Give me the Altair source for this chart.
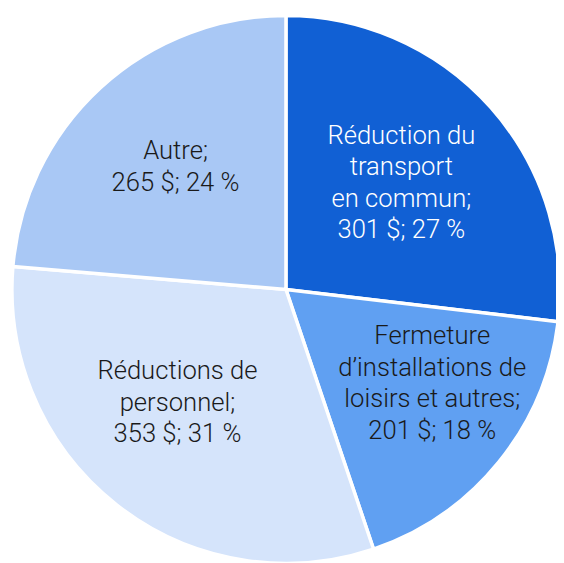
import altair as alt
import pandas as pd

categories = ["Réduction du transport en commun", "Fermeture d’installations de loisirs et autres",
              "Réductions de personnel", "Autre"]
values = [301, 201, 353, 265]
label_lines = [
    ["Réduction du", "transport", "en commun;", "301 $; 27 %"],
    ["Fermeture", "d’installations de", "loisirs et autres;", "201 $; 18 %"],
    ["Réductions de", "personnel;", "353 $; 31 %"],
    ["Autre;", "265 $; 24 %"],
]

colors = ["#1160d4", "#60a0f2", "#d5e4fb", "#a9c8f5"]
text_colors = ["#ffffff", "#1a1a1a", "#1a1a1a", "#1a1a1a"]
label_radius = [158, 177, 159, 167]
label_dx = [-1, 11, -12, 1]
label_dy = [-3, -16, -10, -1]
LINE_H = 32

df = pd.DataFrame({
    "cat": categories,
    "val": values,
    "idx": list(range(len(categories))),
    "label": label_lines,
})

R = 278

base = alt.Chart(df).encode(
    theta=alt.Theta("val:Q", stack=True),
    order=alt.Order("idx:Q"),
)

pie = base.mark_arc(stroke="white", strokeWidth=3.5).encode(
    color=alt.Color("cat:N", scale=alt.Scale(domain=categories, range=colors), legend=None),
    radius=alt.value(R),
)

layers = [pie]
for i, c in enumerate(categories):
    n = len(label_lines[i])
    t = base.mark_text(
        font="Roboto", fontWeight=300, fontSize=26, lineHeight=LINE_H, align="center", baseline="middle",
        color=text_colors[i], dx=label_dx[i], dy=label_dy[i] - (n - 1) * LINE_H / 2,
    ).encode(
        text="label",
        radius=alt.value(label_radius[i]),
        opacity=alt.condition(alt.datum.cat == c, alt.value(1), alt.value(0)),
    )
    layers.append(t)

chart = alt.layer(*layers).properties(
    width=556, height=555,
    padding={"left": 4, "top": 4, "right": -4, "bottom": -4},
    autosize=alt.AutoSizeParams(type="none"),
).configure_view(stroke=None)

chart.save("out.html", embed_options={"renderer": "svg", "actions": False})
